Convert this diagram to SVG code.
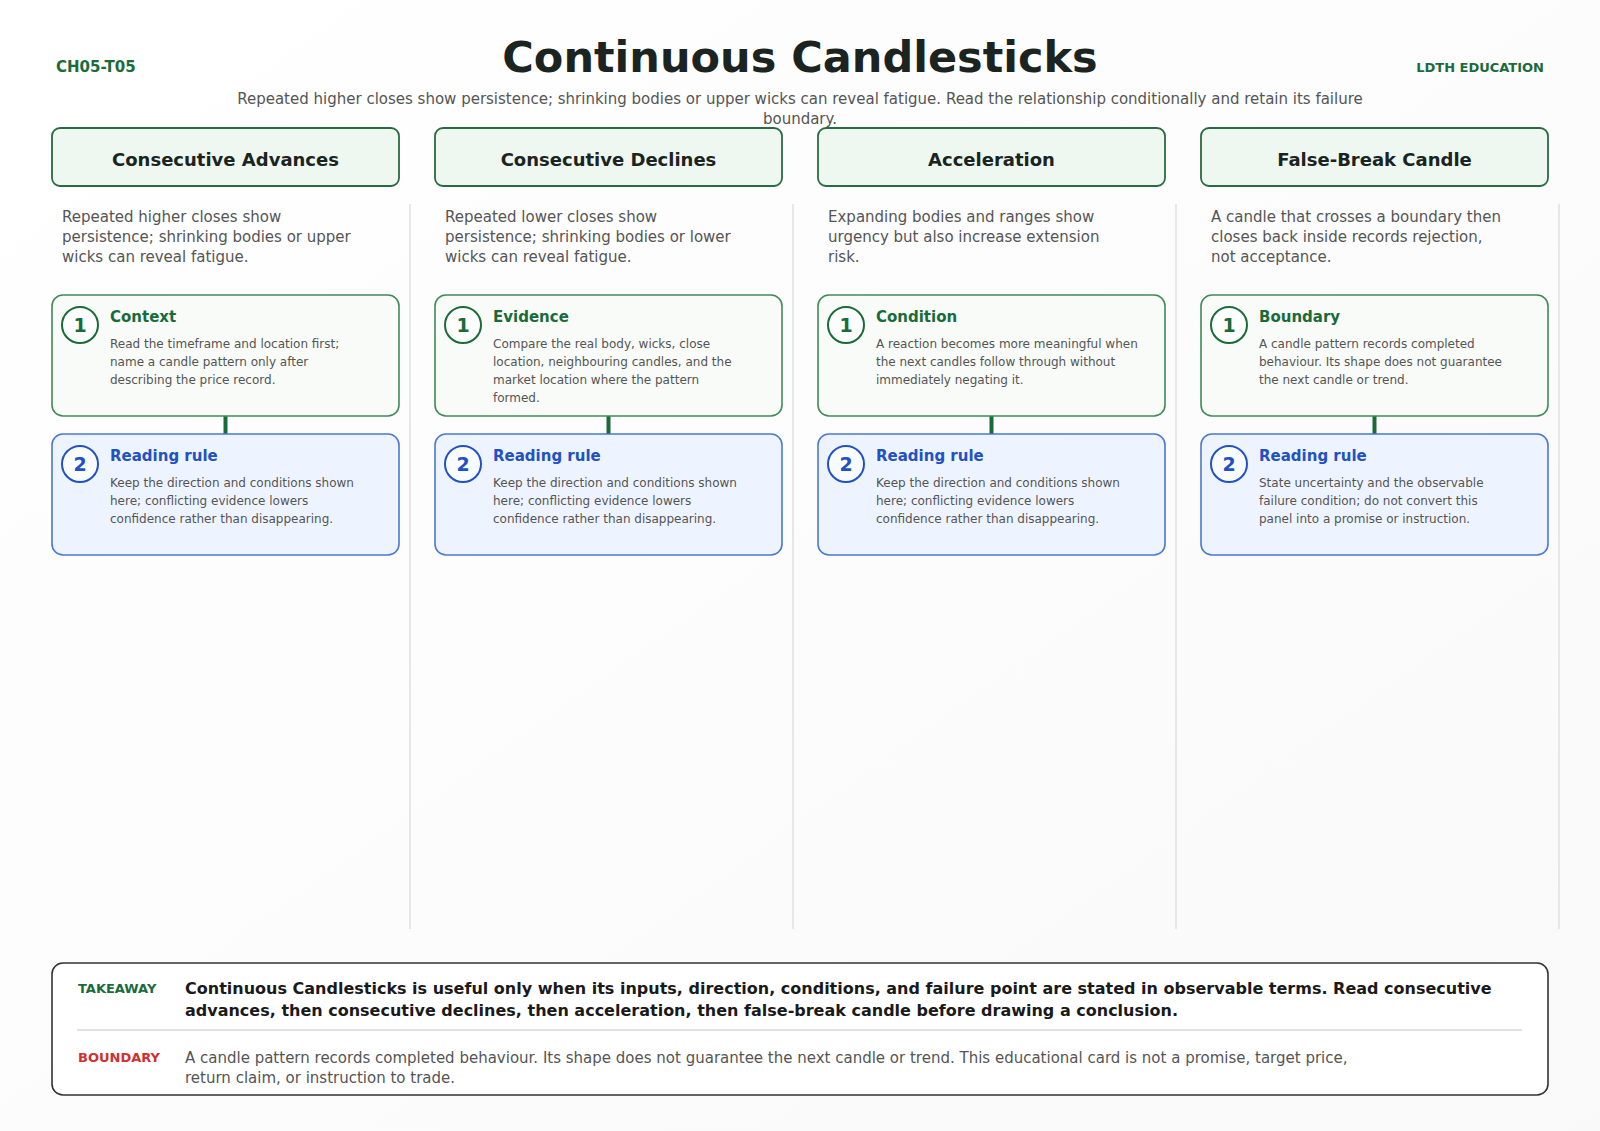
<svg xmlns="http://www.w3.org/2000/svg" width="1600" height="1131" viewBox="0 0 1600 1131">
<defs>
<linearGradient id="bg" x1="0" y1="0" x2="1" y2="1">
<stop offset="0" stop-color="#ffffff"/>
<stop offset="1" stop-color="#f8f9f8"/>
</linearGradient>
<style>
text{font-family:"DejaVu Sans","Liberation Sans",sans-serif}
.title{font-size:43px;font-weight:bold;fill:#1b2420;text-anchor:middle}
.tag{font-size:15px;font-weight:bold;fill:#1a6b3a}
.sub{font-size:15px;fill:#555;text-anchor:middle}
.hdr{fill:#eef8f1;stroke:#2a6a42;stroke-width:1.8}
.hdrt{font-size:18px;font-weight:bold;fill:#1b2420;text-anchor:middle}
.desc{font-size:15px;fill:#555}
.sep{stroke:#e6e8e6;stroke-width:2}
.b1{fill:#f8fbf7;stroke:#3f8a58;stroke-width:1.6}
.b2{fill:#eef4ff;stroke:#4a78d2;stroke-width:1.6}
.c1{fill:#ffffff;fill-opacity:0.6;stroke:#1a6b3a;stroke-width:2}
.c2{fill:#ffffff;fill-opacity:0.6;stroke:#2251c4;stroke-width:2}
.n1{font-size:19px;font-weight:bold;fill:#1a6b3a;text-anchor:middle}
.n2{font-size:19px;font-weight:bold;fill:#2251c4;text-anchor:middle}
.t1{font-size:15px;font-weight:bold;fill:#1a6b3a}
.t2{font-size:15px;font-weight:bold;fill:#2251c4}
.body{font-size:12px;fill:#555}
.conn{stroke:#1a6b3a;stroke-width:4}
.box{fill:#ffffff;stroke:#333;stroke-width:1.6}
.lbl{font-size:13px;font-weight:bold}
.tk{font-size:16px;font-weight:bold;fill:#1a1a1a}
.bd{font-size:15px;fill:#555}
</style>
</defs>
<rect x="0" y="0" width="1600" height="1131" fill="url(#bg)"/>

<g id="header">
<text class="tag" x="56" y="72">CH05-T05</text>
<text class="title" x="800" y="72">Continuous Candlesticks</text>
<text class="tag" x="1544" y="72" style="font-size:13px;text-anchor:end">LDTH EDUCATION</text>
<text class="sub" x="800" y="104">Repeated higher closes show persistence; shrinking bodies or upper wicks can reveal fatigue. Read the relationship conditionally and retain its failure</text>
<text class="sub" x="800" y="124">boundary.</text>
</g>

<g id="separators">
<line class="sep" x1="410" y1="204" x2="410" y2="929"/>
<line class="sep" x1="793" y1="204" x2="793" y2="929"/>
<line class="sep" x1="1176" y1="204" x2="1176" y2="929"/>
<line class="sep" x1="1559" y1="204" x2="1559" y2="929"/>
</g>

<g id="connectors">
<line class="conn" x1="225.5" y1="416" x2="225.5" y2="434"/>
<line class="conn" x1="608.5" y1="416" x2="608.5" y2="434"/>
<line class="conn" x1="991.5" y1="416" x2="991.5" y2="434"/>
<line class="conn" x1="1374.5" y1="416" x2="1374.5" y2="434"/>
</g>

<!-- Column 1 -->
<g id="col1-header">
<rect class="hdr" x="52" y="128" width="347" height="58" rx="8"/>
<text class="hdrt" x="225.5" y="166">Consecutive Advances</text>
</g>
<g id="col1-desc">
<text class="desc" x="62" y="222">Repeated higher closes show</text>
<text class="desc" x="62" y="242">persistence; shrinking bodies or upper</text>
<text class="desc" x="62" y="262">wicks can reveal fatigue.</text>
</g>
<g id="col1-step1">
<rect class="b1" x="52" y="295" width="347" height="121" rx="11"/>
<circle class="c1" cx="80" cy="325" r="18"/>
<text class="n1" x="80" y="332">1</text>
<text class="t1" x="110" y="322">Context</text>
<text class="body" x="110" y="348">Read the timeframe and location first;</text>
<text class="body" x="110" y="366">name a candle pattern only after</text>
<text class="body" x="110" y="384">describing the price record.</text>
</g>
<g id="col1-step2">
<rect class="b2" x="52" y="434" width="347" height="121" rx="11"/>
<circle class="c2" cx="80" cy="464" r="18"/>
<text class="n2" x="80" y="471">2</text>
<text class="t2" x="110" y="461">Reading rule</text>
<text class="body" x="110" y="487">Keep the direction and conditions shown</text>
<text class="body" x="110" y="505">here; conflicting evidence lowers</text>
<text class="body" x="110" y="523">confidence rather than disappearing.</text>
</g>

<!-- Column 2 -->
<g id="col2-header">
<rect class="hdr" x="435" y="128" width="347" height="58" rx="8"/>
<text class="hdrt" x="608.5" y="166">Consecutive Declines</text>
</g>
<g id="col2-desc">
<text class="desc" x="445" y="222">Repeated lower closes show</text>
<text class="desc" x="445" y="242">persistence; shrinking bodies or lower</text>
<text class="desc" x="445" y="262">wicks can reveal fatigue.</text>
</g>
<g id="col2-step1">
<rect class="b1" x="435" y="295" width="347" height="121" rx="11"/>
<circle class="c1" cx="463" cy="325" r="18"/>
<text class="n1" x="463" y="332">1</text>
<text class="t1" x="493" y="322">Evidence</text>
<text class="body" x="493" y="348">Compare the real body, wicks, close</text>
<text class="body" x="493" y="366">location, neighbouring candles, and the</text>
<text class="body" x="493" y="384">market location where the pattern</text>
<text class="body" x="493" y="402">formed.</text>
</g>
<g id="col2-step2">
<rect class="b2" x="435" y="434" width="347" height="121" rx="11"/>
<circle class="c2" cx="463" cy="464" r="18"/>
<text class="n2" x="463" y="471">2</text>
<text class="t2" x="493" y="461">Reading rule</text>
<text class="body" x="493" y="487">Keep the direction and conditions shown</text>
<text class="body" x="493" y="505">here; conflicting evidence lowers</text>
<text class="body" x="493" y="523">confidence rather than disappearing.</text>
</g>

<!-- Column 3 -->
<g id="col3-header">
<rect class="hdr" x="818" y="128" width="347" height="58" rx="8"/>
<text class="hdrt" x="991.5" y="166">Acceleration</text>
</g>
<g id="col3-desc">
<text class="desc" x="828" y="222">Expanding bodies and ranges show</text>
<text class="desc" x="828" y="242">urgency but also increase extension</text>
<text class="desc" x="828" y="262">risk.</text>
</g>
<g id="col3-step1">
<rect class="b1" x="818" y="295" width="347" height="121" rx="11"/>
<circle class="c1" cx="846" cy="325" r="18"/>
<text class="n1" x="846" y="332">1</text>
<text class="t1" x="876" y="322">Condition</text>
<text class="body" x="876" y="348">A reaction becomes more meaningful when</text>
<text class="body" x="876" y="366">the next candles follow through without</text>
<text class="body" x="876" y="384">immediately negating it.</text>
</g>
<g id="col3-step2">
<rect class="b2" x="818" y="434" width="347" height="121" rx="11"/>
<circle class="c2" cx="846" cy="464" r="18"/>
<text class="n2" x="846" y="471">2</text>
<text class="t2" x="876" y="461">Reading rule</text>
<text class="body" x="876" y="487">Keep the direction and conditions shown</text>
<text class="body" x="876" y="505">here; conflicting evidence lowers</text>
<text class="body" x="876" y="523">confidence rather than disappearing.</text>
</g>

<!-- Column 4 -->
<g id="col4-header">
<rect class="hdr" x="1201" y="128" width="347" height="58" rx="8"/>
<text class="hdrt" x="1374.5" y="166">False-Break Candle</text>
</g>
<g id="col4-desc">
<text class="desc" x="1211" y="222">A candle that crosses a boundary then</text>
<text class="desc" x="1211" y="242">closes back inside records rejection,</text>
<text class="desc" x="1211" y="262">not acceptance.</text>
</g>
<g id="col4-step1">
<rect class="b1" x="1201" y="295" width="347" height="121" rx="11"/>
<circle class="c1" cx="1229" cy="325" r="18"/>
<text class="n1" x="1229" y="332">1</text>
<text class="t1" x="1259" y="322">Boundary</text>
<text class="body" x="1259" y="348">A candle pattern records completed</text>
<text class="body" x="1259" y="366">behaviour. Its shape does not guarantee</text>
<text class="body" x="1259" y="384">the next candle or trend.</text>
</g>
<g id="col4-step2">
<rect class="b2" x="1201" y="434" width="347" height="121" rx="11"/>
<circle class="c2" cx="1229" cy="464" r="18"/>
<text class="n2" x="1229" y="471">2</text>
<text class="t2" x="1259" y="461">Reading rule</text>
<text class="body" x="1259" y="487">State uncertainty and the observable</text>
<text class="body" x="1259" y="505">failure condition; do not convert this</text>
<text class="body" x="1259" y="523">panel into a promise or instruction.</text>
</g>

<g id="takeaway">
<rect class="box" x="52" y="963" width="1496" height="132" rx="11"/>
<text class="lbl" x="78" y="993" fill="#1a6b3a">TAKEAWAY</text>
<text class="tk" x="185" y="994">Continuous Candlesticks is useful only when its inputs, direction, conditions, and failure point are stated in observable terms. Read consecutive</text>
<text class="tk" x="185" y="1016">advances, then consecutive declines, then acceleration, then false-break candle before drawing a conclusion.</text>
<line x1="77" y1="1030" x2="1522" y2="1030" stroke="#e2e2e2" stroke-width="2"/>
<text class="lbl" x="78" y="1062" fill="#d03030">BOUNDARY</text>
<text class="bd" x="185" y="1063">A candle pattern records completed behaviour. Its shape does not guarantee the next candle or trend. This educational card is not a promise, target price,</text>
<text class="bd" x="185" y="1083">return claim, or instruction to trade.</text>
</g>
</svg>
